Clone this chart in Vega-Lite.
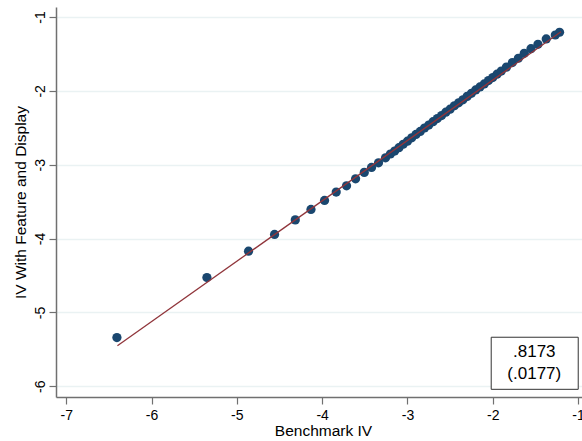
{
  "$schema": "https://vega.github.io/schema/vega-lite/v6.json",
  "autosize": "none",
  "width": 534,
  "height": 390,
  "padding": {"left": 56, "top": 7, "right": 0, "bottom": 44},
  "background": "white",
  "config": {
    "view": {"stroke": null},
    "font": "Liberation Sans",
    "axis": {
      "labelFont": "Liberation Sans",
      "titleFont": "Liberation Sans",
      "labelFontSize": 14,
      "titleFontSize": 15.5,
      "titleFontWeight": "normal",
      "labelColor": "#000000",
      "titleColor": "#000000",
      "domainColor": "#707070",
      "tickColor": "#707070",
      "tickSize": 7,
      "domainWidth": 1.5,
      "tickWidth": 1.2,
      "labelExpr": "'' + datum.value"
    }
  },
  "datasets": {
    "points": [
      {"bench": -6.406, "feat": -5.340},
      {"bench": -5.351, "feat": -4.527},
      {"bench": -4.863, "feat": -4.171},
      {"bench": -4.558, "feat": -3.944},
      {"bench": -4.315, "feat": -3.747},
      {"bench": -4.131, "feat": -3.606},
      {"bench": -3.972, "feat": -3.484},
      {"bench": -3.835, "feat": -3.371},
      {"bench": -3.714, "feat": -3.286},
      {"bench": -3.608, "feat": -3.191},
      {"bench": -3.506, "feat": -3.104},
      {"bench": -3.421, "feat": -3.037},
      {"bench": -3.339, "feat": -2.974},
      {"bench": -3.257, "feat": -2.907},
      {"bench": -3.20, "feat": -2.855},
      {"bench": -3.15, "feat": -2.815},
      {"bench": -3.10, "feat": -2.769},
      {"bench": -3.05, "feat": -2.723},
      {"bench": -3.00, "feat": -2.682},
      {"bench": -2.95, "feat": -2.636},
      {"bench": -2.90, "feat": -2.590},
      {"bench": -2.85, "feat": -2.549},
      {"bench": -2.80, "feat": -2.503},
      {"bench": -2.75, "feat": -2.463},
      {"bench": -2.70, "feat": -2.417},
      {"bench": -2.65, "feat": -2.376},
      {"bench": -2.60, "feat": -2.335},
      {"bench": -2.55, "feat": -2.289},
      {"bench": -2.50, "feat": -2.248},
      {"bench": -2.45, "feat": -2.202},
      {"bench": -2.40, "feat": -2.162},
      {"bench": -2.35, "feat": -2.121},
      {"bench": -2.30, "feat": -2.075},
      {"bench": -2.25, "feat": -2.034},
      {"bench": -2.20, "feat": -1.988},
      {"bench": -2.15, "feat": -1.947},
      {"bench": -2.10, "feat": -1.906},
      {"bench": -2.05, "feat": -1.861},
      {"bench": -2.00, "feat": -1.820},
      {"bench": -1.95, "feat": -1.774},
      {"bench": -1.90, "feat": -1.733},
      {"bench": -1.84, "feat": -1.679},
      {"bench": -1.77, "feat": -1.617},
      {"bench": -1.70, "feat": -1.559},
      {"bench": -1.631, "feat": -1.492},
      {"bench": -1.552, "feat": -1.430},
      {"bench": -1.470, "feat": -1.370},
      {"bench": -1.373, "feat": -1.298},
      {"bench": -1.267, "feat": -1.244},
      {"bench": -1.217, "feat": -1.207}
    ],
    "fit": [
      {"bench": -6.40, "feat": -5.451},
      {"bench": -1.20, "feat": -1.201}
    ]
  },
  "layer": [
    {
      "data": {"name": "points"},
      "mark": {"type": "circle", "color": "#1a476f", "opacity": 1, "size": 85},
      "encoding": {
        "x": {
          "field": "bench", "type": "quantitative",
          "scale": {"domain": [-7.12, -0.86], "nice": false, "zero": false},
          "axis": {
            "title": "Benchmark IV",
            "values": [-7, -6, -5, -4, -3, -2, -1],
            "grid": false,
            "labelPadding": 4,
            "titlePadding": 1
          }
        },
        "y": {
          "field": "feat", "type": "quantitative",
          "scale": {"domain": [-6.145, -0.865], "nice": false, "zero": false},
          "axis": {
            "title": "IV With Feature and Display",
            "values": [-6, -5, -4, -3, -2, -1],
            "grid": true,
            "gridColor": "#eaf2f3",
            "gridWidth": 1.5,
            "labelAngle": -90,
            "labelAlign": "center",
            "labelBaseline": "bottom",
            "labelPadding": 2,
            "titlePadding": 5
          }
        }
      }
    },
    {
      "data": {"name": "fit"},
      "mark": {"type": "line", "color": "#90353b", "strokeWidth": 1.3},
      "encoding": {
        "x": {"field": "bench", "type": "quantitative"},
        "y": {"field": "feat", "type": "quantitative"}
      }
    },
    {
      "data": {"values": [{"k": 1}]},
      "mark": {"type": "rect", "fill": "white", "stroke": "#333333", "strokeWidth": 1},
      "encoding": {
        "x": {"datum": -2.018, "type": "quantitative"},
        "x2": {"datum": -0.998},
        "y": {"datum": -5.336, "type": "quantitative"},
        "y2": {"datum": -6.041}
      }
    },
    {
      "data": {"values": [{"k": 1}]},
      "mark": {"type": "text", "fontSize": 17, "font": "Liberation Sans", "color": "#000000", "align": "center", "baseline": "middle"},
      "encoding": {
        "text": {"value": ".8173"},
        "x": {"datum": -1.513, "type": "quantitative"},
        "y": {"datum": -5.539, "type": "quantitative"}
      }
    },
    {
      "data": {"values": [{"k": 1}]},
      "mark": {"type": "text", "fontSize": 17, "font": "Liberation Sans", "color": "#000000", "align": "center", "baseline": "middle"},
      "encoding": {
        "text": {"value": "(.0177)"},
        "x": {"datum": -1.513, "type": "quantitative"},
        "y": {"datum": -5.837, "type": "quantitative"}
      }
    }
  ]
}
